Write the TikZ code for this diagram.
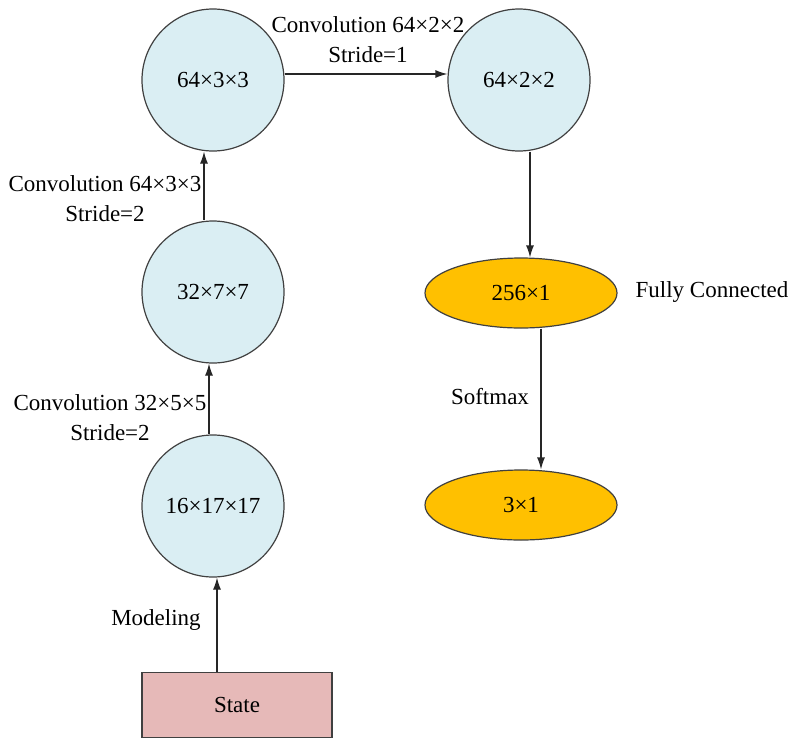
\documentclass[tikz,border=0pt]{standalone}
\usepackage{fontspec}
\setmainfont{Liberation Serif}
\usetikzlibrary{shapes.geometric,arrows.meta}
\definecolor{lightblue}{HTML}{DAEEF3}
\definecolor{amber}{HTML}{FFC000}
\definecolor{rose}{HTML}{E6B9B8}
\begin{document}
\begin{tikzpicture}[x=1pt,y=-1pt,font=\rmfamily\fontsize{23}{30}\selectfont,
        layer/.style={circle,draw=black!75,line width=1.2pt,fill=lightblue,minimum size=142pt,inner sep=0pt},
        dense/.style={ellipse,draw=black!75,line width=1.2pt,fill=amber,minimum width=192pt,minimum height=70pt,inner sep=0pt},
        lbl/.style={align=center,inner sep=0pt},
        arr/.style={-{Latex[length=12pt,width=8pt]},black!85,line width=1.2pt}]
        \useasboundingbox (0,0) rectangle (793,740);
        \node[draw=black!75,line width=1.2pt,fill=rose,minimum width=190pt,minimum height=65pt] (state) at (237,705) {State};
        \node[layer] (c16) at (213,506) {16×17×17};
        \node[layer] (c32) at (213,292) {32×7×7};
        \node[layer] (c64a) at (213,80) {64×3×3};
        \node[layer] (c64b) at (519,80) {64×2×2};
        \node[dense] (fc) at (521,293) {256×1};
        \node[dense] (out) at (521,505) {3×1};
        \draw[arr] ([xshift=-20pt]state.north) -- ([xshift=4pt]c16.south);
        \draw[arr] ([xshift=-4pt]c16.north) -- ([xshift=-4pt]c32.south);
        \draw[arr] ([xshift=-9pt]c32.north) -- ([xshift=-9pt]c64a.south);
        \draw[arr] ([yshift=6pt]c64a.east) -- ([yshift=6pt]c64b.west);
        \draw[arr] ([xshift=11pt]c64b.south) -- ([xshift=9pt]fc.north);
        \draw[arr] ([xshift=20pt]fc.south) -- ([xshift=20pt]out.north);
        \node[lbl] (modeling) at (156,620) {Modeling};
        \node[lbl] (conv1) at (110,418) {Convolution 32×5×5\\Stride=2};
        \node[lbl] (conv2) at (105,199) {Convolution 64×3×3\\Stride=2};
        \node[lbl] (conv3) at (368,40) {Convolution 64×2×2\\Stride=1};
        \node[lbl] (fclbl) at (712,292) {Fully Connected};
        \node[lbl] (softmax) at (490,397) {Softmax};
    \end{tikzpicture}
\end{document}
